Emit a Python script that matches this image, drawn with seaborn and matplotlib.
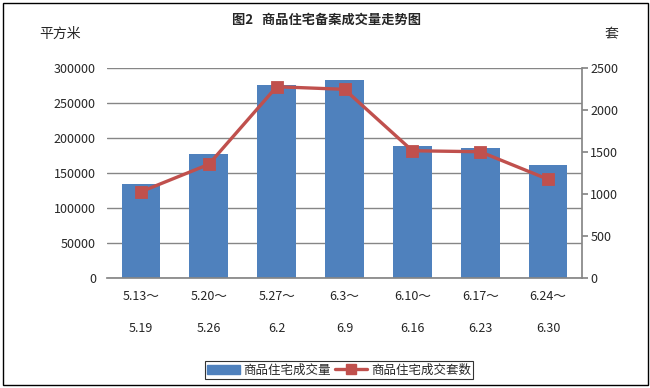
import matplotlib
matplotlib.use("Agg")
import matplotlib.pyplot as plt
import seaborn as sns
import pandas as pd
import numpy as np
from matplotlib.patches import Patch
from matplotlib.lines import Line2D

sns.set_theme(style="white")
plt.rcParams['font.family'] = ['Noto Sans CJK SC', 'DejaVu Sans']

categories = ["5.13～\n\n5.19", "5.20～\n\n5.26", "5.27～\n\n6.2", "6.3～\n\n6.9",
              "6.10～\n\n6.16", "6.17～\n\n6.23", "6.24～\n\n6.30"]
area_values = [135000, 177000, 276000, 283000, 188500, 186000, 161500]
units_values = [1027, 1353, 2277, 2246, 1515, 1503, 1175]
left_ticks = [0, 50000, 100000, 150000, 200000, 250000, 300000]
right_ticks = [0, 500, 1000, 1500, 2000, 2500]

bar_color = "#4F81BD"
line_color = "#C0504D"
grid_color = "#868686"

df = pd.DataFrame({"period": categories, "area": area_values, "units": units_values})

fig = plt.figure(figsize=(6.5, 3.88), dpi=100)
ax = fig.add_axes([107/650, 1-278/388, (582-107)/650, (278-68)/388])

sns.barplot(data=df, x="period", y="area", color=bar_color, width=0.57,
            saturation=1, ax=ax, zorder=2, edgecolor=bar_color, linewidth=0)
ax.set_ylim(0, 300000)
ax.set_yticks(left_ticks)
ax.set_yticklabels([str(t) for t in left_ticks], fontsize=9)
ax.yaxis.grid(True, color=grid_color, linewidth=1)
ax.set_axisbelow(True)
ax.set_xlabel("")
ax.set_ylabel("")
ax.tick_params(axis='x', length=0, labelsize=9, pad=9)
ax.tick_params(axis='y', length=0, pad=8)
for lbl in ax.get_xticklabels():
    lbl.set_linespacing(1.3)
for s in ["left", "top", "right"]:
    ax.spines[s].set_visible(False)
ax.spines["bottom"].set_color(grid_color)

ax2 = ax.twinx()
sns.pointplot(data=df, x="period", y="units", color=line_color, markers="s",
              linestyles="-", ax=ax2)
for ln in ax2.lines:
    ln.set_linewidth(2.4)
    ln.set_markersize(7)
for c in ax2.collections:
    c.set_sizes([50])
    c.set_linewidth(0)
ax2.set_ylim(0, 2500)
ax2.set_yticks(right_ticks)
ax2.set_yticklabels([str(t) for t in right_ticks], fontsize=9)
ax2.set_ylabel("")
ax2.set_xlabel("")
ax2.set_xlim(-0.5, len(categories) - 0.5)
ax.set_xlim(-0.5, len(categories) - 0.5)
for s in ["left", "top", "bottom"]:
    ax2.spines[s].set_visible(False)
ax2.spines["right"].set_color(grid_color)
ax2.tick_params(axis='y', length=4, color=grid_color, direction='out', pad=2)
ax2.grid(False)

fig.text(327/650, 1-20/388, "图2   商品住宅备案成交量走势图", ha="center", va="center",
         fontsize=9.5, fontweight="bold")
fig.text(60/650, 1-34/388, "平方米", ha="center", va="center", fontsize=10)
fig.text(611/650, 1-34/388, "套", ha="center", va="center", fontsize=10)

handles = [Patch(facecolor=bar_color, edgecolor=bar_color),
           Line2D([0], [0], color=line_color, linewidth=2.4, marker="s", markersize=7)]
leg = fig.legend(handles, ["商品住宅成交量", "商品住宅成交套数"], loc="center",
                 bbox_to_anchor=(339/650, 1-370/388), ncol=2, fontsize=9,
                 frameon=True, fancybox=False, edgecolor="black",
                 handlelength=2.6, columnspacing=0.3, handletextpad=0.3,
                 borderpad=0.2, borderaxespad=0)
leg.get_frame().set_linewidth(0.8)

# outer frame
fig.patches.append(plt.Rectangle((2.5/650, 3/388), 645/650, 382/388, transform=fig.transFigure,
                                 fill=False, edgecolor="black", linewidth=1))

fig.savefig("out.png", dpi=100)
